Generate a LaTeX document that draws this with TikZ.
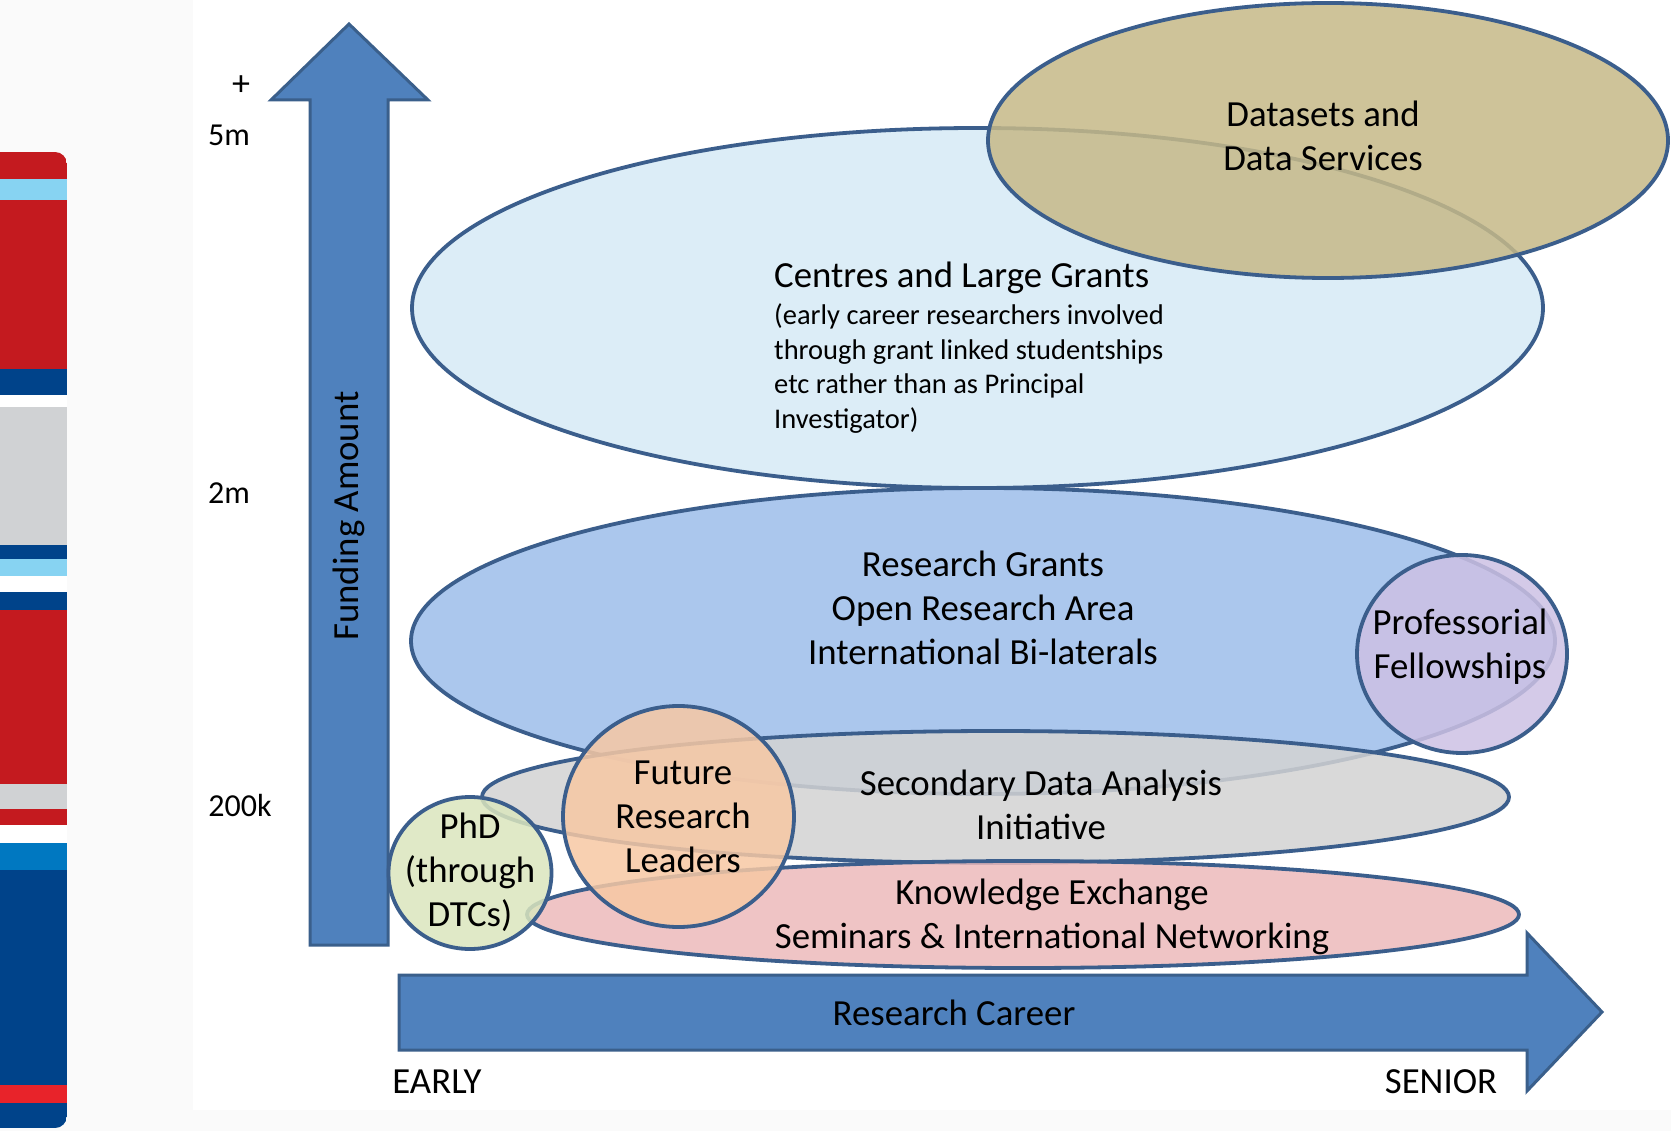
\documentclass[tikz,border=0pt]{standalone}
\usepackage{fontspec}
\setmainfont{Carlito}
\usetikzlibrary{shapes.geometric}
\definecolor{edgeblue}{HTML}{3B5E8C}
\definecolor{arrowfill}{HTML}{4F81BD}
\definecolor{arrowedge}{HTML}{3A5F8B}
\definecolor{cenfill}{HTML}{D7EAF6}
\definecolor{datfill}{HTML}{C6B988}
\definecolor{rgfill}{HTML}{9DBEEA}
\definecolor{secfill}{HTML}{D3D3D3}
\definecolor{kefill}{HTML}{EDBABC}
\definecolor{proffill}{HTML}{CDC1E4}
\definecolor{futfill}{HTML}{F7C8A4}
\definecolor{phdfill}{HTML}{DBE6BE}
\definecolor{barred}{HTML}{C41A1F}
\definecolor{barlblue}{HTML}{87D3F2}
\definecolor{bardblue}{HTML}{00438A}
\definecolor{bargray}{HTML}{D0D2D4}
\definecolor{barmblue}{HTML}{0078C1}
\definecolor{barbred}{HTML}{E8232A}
\definecolor{pagegray}{HTML}{FAFAFA}
\begin{document}
\begin{tikzpicture}[x=1pt,y=-1pt,
  blob/.style={ellipse, draw=edgeblue, line width=3.8pt, fill opacity=0.85, inner sep=0pt},
  bigarrow/.style={draw=arrowedge, line width=3pt, fill=arrowfill, line join=miter},
  bigtxt/.style={font=\fontsize{36.8}{44}\selectfont, align=center, inner sep=0pt},
  axistxt/.style={font=\fontsize{32}{38}\selectfont, inner sep=0pt}]
\useasboundingbox (0,0) rectangle (1671,1131);
\fill[pagegray] (0,0) rectangle (1671,1131);
\fill[white] (193,0) rectangle (1671,1110);
% left decorative bar
\begin{scope}
\clip[rounded corners=12pt] (-30,152) rectangle (67,1128);
\fill[barred] (0,152) rectangle (67,179);
\fill[barlblue] (0,179) rectangle (67,200);
\fill[barred] (0,200) rectangle (67,369);
\fill[bardblue] (0,369) rectangle (67,395);
\fill[white] (0,395) rectangle (67,407);
\fill[bargray] (0,407) rectangle (67,545);
\fill[bardblue] (0,545) rectangle (67,559);
\fill[barlblue] (0,559) rectangle (67,576);
\fill[white] (0,576) rectangle (67,592);
\fill[bardblue] (0,592) rectangle (67,610);
\fill[barred] (0,610) rectangle (67,784);
\fill[bargray] (0,784) rectangle (67,809);
\fill[barred] (0,809) rectangle (67,825);
\fill[white] (0,825) rectangle (67,843);
\fill[barmblue] (0,843) rectangle (67,870);
\fill[bardblue] (0,870) rectangle (67,1085);
\fill[barbred] (0,1085) rectangle (67,1103);
\fill[bardblue] (0,1103) rectangle (67,1128);
\end{scope}
% axes arrows
\draw[bigarrow] (310,945) -- (310,100) -- (271,100) -- (349,24) -- (428,100) -- (388,100) -- (388,945) -- cycle;
\draw[bigarrow] (399,975) -- (1527,975) -- (1527,933) -- (1602,1012) -- (1527,1091) -- (1527,1050) -- (399,1050) -- cycle;
% axis labels
\node[axistxt, font=\fontsize{36}{40}\selectfont] (plus) at (241,86) {+};
\node[axistxt] (fivem) at (229,135) {5m};
\node[axistxt] (twom) at (229,493) {2m};
\node[axistxt] (twohk) at (240,805) {200k};
\node[bigtxt, rotate=90] (funding) at (349,516) {Funding Amount};
\node[bigtxt] (career) at (954,1013) {Research Career};
\node[bigtxt] (early) at (437,1082) {EARLY};
\node[bigtxt] (senior) at (1441,1082) {SENIOR};
% shapes
\node[blob, fill=cenfill, minimum width=1131pt, minimum height=360pt] (centres) at (977.5,308) {};
\node[blob, fill=datfill, minimum width=680pt, minimum height=275pt] (datasets) at (1328,140.5) {};
\node[blob, fill=rgfill, minimum width=1144pt, minimum height=306pt] (grants) at (983,641) {};
\node[blob, fill=secfill, minimum width=1027pt, minimum height=132pt] (secondary) at (995.5,797) {};
\node[blob, fill=kefill, minimum width=992pt, minimum height=107pt] (knowledge) at (1023,914.5) {};
\node[blob, fill=proffill, minimum width=210pt, minimum height=198pt] (prof) at (1462,654) {};
\node[blob, fill=futfill, minimum width=231pt, minimum height=221pt] (future) at (678.5,816.5) {};
\node[blob, fill=phdfill, minimum width=163pt, minimum height=152pt] (phd) at (470,873) {};
% texts
\node[bigtxt] (datasetstxt) at (1323,136) {Datasets and\\Data Services};
\node[bigtxt, align=left, anchor=north west] (centrestxt) at (774,262) {Centres and Large Grants\\[-7.2pt]
  {\fontsize{28.5}{34.5}\selectfont (early career researchers involved}\\[-9.5pt]
  {\fontsize{28.5}{34.5}\selectfont through grant linked studentships}\\[-9.5pt]
  {\fontsize{28.5}{34.5}\selectfont etc rather than as Principal}\\[-9.5pt]
  {\fontsize{28.5}{34.5}\selectfont Investigator)}};
\node[bigtxt] (grantstxt) at (983,608) {Research Grants\\Open Research Area\\International Bi-laterals};
\node[bigtxt] (sectxt) at (1041,805) {Secondary Data Analysis\\Initiative};
\node[bigtxt] (ketxt) at (1052,917) {Knowledge Exchange\\Seminars \& International Networking};
\node[bigtxt] (proftxt) at (1460,647) {Professorial\\Fellowships};
\node[bigtxt] (futtxt) at (683,817) {Future\\Research\\Leaders};
\node[bigtxt] (phdtxt) at (470,872) {PhD\\(through\\DTCs)};
\end{tikzpicture}
\end{document}
